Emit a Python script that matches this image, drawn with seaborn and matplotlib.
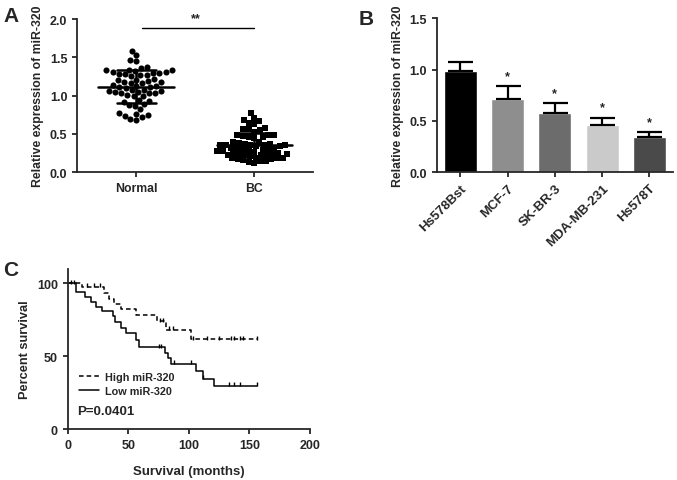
import numpy as np
import seaborn as sns
from matplotlib import pyplot as plt
from matplotlib.lines import Line2D

# panel A: relative miR-320 expression per sample
groups = ['Normal', 'BC']
normal = [1.59, 1.53, 1.47, 1.45, 1.38, 1.36,
          1.34, 1.33, 1.33, 1.32, 1.31, 1.31, 1.30, 1.30,
          1.28, 1.28, 1.27, 1.27, 1.26,
          1.22, 1.21, 1.20, 1.19, 1.18, 1.18, 1.17, 1.17,
          1.14, 1.13, 1.13, 1.12, 1.11, 1.10,
          1.08, 1.07, 1.06, 1.06, 1.05, 1.05, 1.04, 1.04, 1.03,
          1.01, 1.00, 0.99,
          0.94, 0.93, 0.92, 0.89, 0.88, 0.87,
          0.82, 0.77, 0.76, 0.75, 0.74, 0.72, 0.69, 0.68]
bc = [0.77, 0.71, 0.68, 0.67, 0.64, 0.63, 0.58, 0.57, 0.56, 0.55,
      0.53, 0.49, 0.48, 0.48, 0.47, 0.46, 0.46, 0.45,
      0.40, 0.39, 0.38, 0.37, 0.37, 0.36, 0.36, 0.35, 0.35, 0.35, 0.34, 0.34,
      0.32, 0.31, 0.31, 0.30, 0.30, 0.29, 0.29, 0.28, 0.28, 0.27,
      0.25, 0.25, 0.24, 0.24, 0.24, 0.23, 0.23, 0.22, 0.22, 0.21,
      0.19, 0.19, 0.18, 0.18, 0.17, 0.17, 0.16,
      0.14, 0.14, 0.13, 0.12]

# panel B: cell lines
cells = ['Hs578Bst', 'MCF-7', 'SK-BR-3', 'MDA-MB-231', 'Hs578T']
cell_means = [0.99, 0.71, 0.58, 0.46, 0.34]
cell_sds = [0.08, 0.13, 0.09, 0.07, 0.05]
cell_colors = ['#000000', '#8e8e8e', '#6c6c6c', '#cacaca', '#4a4a4a']
cell_stars = ['', '*', '*', '*', '*']

# panel C: Kaplan-Meier steps (months, percent survival)
high_t = [0, 12, 30, 34, 38, 44, 56, 74, 81, 102, 156]
high_s = [100, 97.5, 93.5, 89, 86, 82.5, 78, 74, 68, 61.5, 61.5]
high_cens = [5, 16, 22, 27, 76, 79, 84, 87, 103, 115, 125, 135, 137, 142, 145, 156]
low_t = [0, 7, 14, 19, 23, 28, 37, 39, 44, 48, 56, 59, 80, 83, 85, 106, 112, 121, 156]
low_s = [100, 94, 90.5, 87, 83.5, 81, 77.5, 73.5, 69.5, 66, 61, 56, 52.5, 48.5,
         44.5, 40, 34.5, 29.5, 29.5]
low_cens = [3, 75, 77, 88, 102, 112, 133, 137, 142, 156]

sns.set_style('ticks')
plt.rcParams['font.family'] = ['Liberation Sans', 'DejaVu Sans']
plt.rcParams['font.weight'] = 'bold'
plt.rcParams['axes.labelweight'] = 'bold'
plt.rcParams['axes.linewidth'] = 1.3
plt.rcParams['xtick.major.width'] = 1.3
plt.rcParams['ytick.major.width'] = 1.3
plt.rcParams['xtick.major.size'] = 3.5
plt.rcParams['ytick.major.size'] = 3.5

fig = plt.figure(figsize=(6.77, 4.81), dpi=100)
ax_a = fig.add_axes([0.114, 0.640, 0.349, 0.318])
ax_b = fig.add_axes([0.645, 0.640, 0.349, 0.320])
ax_c = fig.add_axes([0.100, 0.106, 0.358, 0.333])

# ---- A
sns.swarmplot(x=['Normal'] * len(normal), y=normal, order=groups, marker='o',
              color='black', size=4.4, ax=ax_a)
sns.swarmplot(x=['BC'] * len(bc), y=bc, order=groups, marker='s',
              color='black', size=4.0, ax=ax_a)
for i, vals in enumerate([normal, bc]):
    m, s = np.mean(vals), np.std(vals)
    ax_a.plot([i - 0.32, i + 0.32], [m, m], color='black', lw=1.8, zorder=5)
    ax_a.plot([i, i], [m - s, m + s], color='black', lw=1.8, zorder=5)
    for y in (m - s, m + s):
        ax_a.plot([i - 0.165, i + 0.165], [y, y], color='black', lw=1.8, zorder=5)
ax_a.plot([0.05, 1.0], [1.88, 1.88], color='black', lw=1, clip_on=False)
ax_a.text(0.5, 1.93, '**', ha='center', va='bottom', fontsize=9)
ax_a.set_xlim(-0.5, 1.5)
ax_a.set_ylim(0, 2.0)
ax_a.set_yticks([0, 0.5, 1.0, 1.5, 2.0])
ax_a.set_yticklabels(['0.0', '0.5', '1.0', '1.5', '2.0'])
ax_a.set_ylabel('Relative expression of miR-320', fontsize=8.8)
ax_a.tick_params(axis='y', labelsize=9)
ax_a.tick_params(axis='x', labelsize=8.8)
sns.despine(ax=ax_a)

# ---- B
sns.barplot(x=cells, y=cell_means, hue=cells, palette=cell_colors, legend=False,
            saturation=1, width=0.7, ax=ax_b)
ax_b.errorbar(range(len(cells)), cell_means,
              yerr=[np.zeros(len(cells)), cell_sds], fmt='none', ecolor='black',
              elinewidth=1.6, capsize=9, capthick=1.6)
for i, star in enumerate(cell_stars):
    if star:
        ax_b.text(i, cell_means[i] + cell_sds[i] + 0.04, star, ha='center',
                  va='bottom', fontsize=9)
ax_b.set_xlim(-0.5, 4.5)
ax_b.set_ylim(0, 1.5)
ax_b.set_yticks([0, 0.5, 1.0, 1.5])
ax_b.set_yticklabels(['0.0', '0.5', '1.0', '1.5'])
ax_b.set_ylabel('Relative expression of miR-320', fontsize=8.8)
ax_b.tick_params(axis='y', labelsize=9)
ax_b.tick_params(axis='x', labelsize=9.5)
plt.setp(ax_b.get_xticklabels(), rotation=45, ha='right', rotation_mode='anchor')
sns.despine(ax=ax_b)


# ---- C
def surv_at(times, surv, t):
    idx = np.searchsorted(times, t, side='right') - 1
    return np.array(surv)[idx]


sns.lineplot(x=high_t, y=high_s, drawstyle='steps-post', color='black', lw=1.1,
             linestyle=(0, (3, 2)), ax=ax_c)
sns.lineplot(x=low_t, y=low_s, drawstyle='steps-post', color='black', lw=1.1,
             ax=ax_c)
ax_c.scatter(high_cens, surv_at(high_t, high_s, high_cens) + 1.2, marker='|',
             color='black', s=12, linewidths=1)
ax_c.scatter(low_cens, surv_at(low_t, low_s, low_cens) + 1.2, marker='|',
             color='black', s=12, linewidths=1)
handles = [Line2D([], [], color='black', lw=1.1, linestyle=(0, (3, 2))),
           Line2D([], [], color='black', lw=1.1)]
ax_c.legend(handles, ['High miR-320', 'Low miR-320'], loc='upper left',
            bbox_to_anchor=(0.025, 0.39), frameon=False, fontsize=7.8,
            handlelength=1.8, handletextpad=0.6, labelspacing=0.35, borderpad=0)
ax_c.text(0.04, 0.115, 'P=0.0401', transform=ax_c.transAxes, ha='left',
          va='center', fontsize=9.5)
ax_c.set_xlim(0, 200)
ax_c.set_ylim(0, 110)
ax_c.set_xticks([0, 50, 100, 150, 200])
ax_c.set_yticks([0, 50, 100])
ax_c.set_xlabel('Survival (months)', fontsize=9.5, labelpad=10)
ax_c.set_ylabel('Percent survival', fontsize=9.2)
ax_c.tick_params(labelsize=9)
sns.despine(ax=ax_c)

fig.text(0.005, 0.985, 'A', fontsize=15, fontweight='bold', va='top')
fig.text(0.530, 0.980, 'B', fontsize=15, fontweight='bold', va='top')
fig.text(0.005, 0.458, 'C', fontsize=15, fontweight='bold', va='top')

fig.savefig('out.png', dpi=100)
